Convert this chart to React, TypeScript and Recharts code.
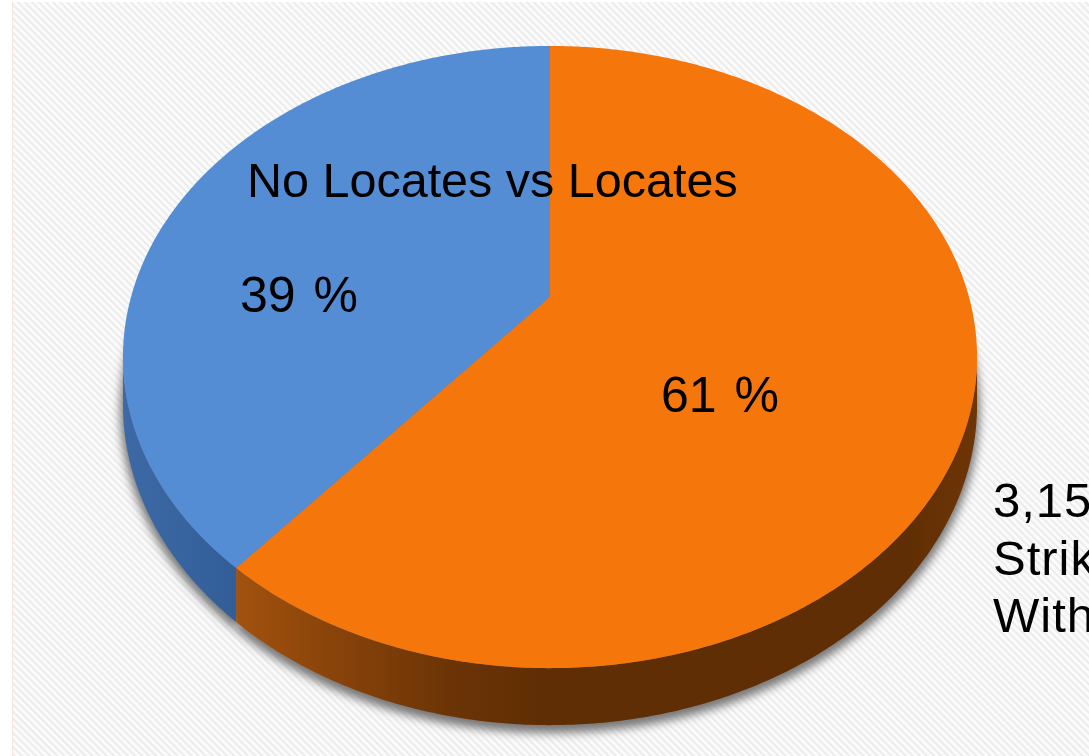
import React from 'react';
import { PieChart, Pie, Cell } from 'recharts';

// ---- data ----
const CATEGORIES = ['No Locates', 'Locates'];
const VALUES = [39, 61];
const PCT_LABELS = ['39 %', '61 %'];
const TITLE = 'No Locates vs Locates';
const SIDE_NOTE = ['3,150', 'Strikes', 'With Locates'];

// ---- styling / layout ----
const COLORS = ['#548DD4', '#F5770B'];
const WALL_FILLS = ['url(#wallBlue)', 'url(#wallOrange)'];
const W = 1089;
const H = 756;
const CX = 550;
const CY = 297;
const RADIUS = 299.5;
const RX_FACTOR = 1.399;
const PERSP = 0.193;
const DEPTH = 46;
const FONT = "'Liberation Sans', Arial, Helvetica, sans-serif";
const LABEL_POS = [
  [240, 312],
  [661, 412],
];

const data = CATEGORIES.map((name, i) => ({ name, value: VALUES[i] }));

function proj(cx: number, cy: number, R: number, deg: number, drop = 0, scale = 1): [number, number] {
  const a = (deg * Math.PI) / 180;
  const X = Math.cos(a) * scale;
  const Y = -Math.sin(a) * scale;
  const w = 1 - PERSP * Y;
  return [cx + (R * RX_FACTOR * X) / w, cy + (R * Y) / w + drop / w];
}

function arcPts(cx: number, cy: number, R: number, a1: number, a2: number, drop = 0, scale = 1) {
  const n = Math.max(2, Math.ceil(Math.abs(a2 - a1) / 0.5));
  const pts: [number, number][] = [];
  for (let i = 0; i <= n; i++) {
    const a = a1 + ((a2 - a1) * i) / n;
    pts.push(proj(cx, cy, R, a, drop, scale));
  }
  return pts;
}

const toPath = (pts: [number, number][]) =>
  pts.map((p, i) => `${i === 0 ? 'M' : 'L'}${p[0].toFixed(2)},${p[1].toFixed(2)}`).join(' ');

const SIL = (Math.asin(PERSP) * 180) / Math.PI;

function wallRanges(s: number, e: number) {
  const lo = Math.min(s, e);
  const hi = Math.max(s, e);
  const out: [number, number][] = [];
  for (const k of [-360, 0, 360]) {
    const a = Math.max(lo, 180 + SIL + k);
    const b = Math.min(hi, 360 - SIL + k);
    if (b > a) out.push([a, b]);
  }
  return out;
}

const renderShadow = (props: any) => {
  const { cx, cy, outerRadius, startAngle, endAngle, index } = props;
  const drop = DEPTH + 4;
  const pts = arcPts(cx, cy, outerRadius, startAngle, endAngle, drop, 1.006);
  const d = `M${cx},${cy + drop} ` + toPath(pts).replace(/^M/, 'L') + ' Z';
  return <path key={`sh-${index}`} d={d} fill="#777777" filter="url(#pieShadow)" />;
};

const renderSlice = (props: any) => {
  const { cx, cy, outerRadius, startAngle, endAngle, index } = props;
  const walls = wallRanges(startAngle, endAngle).map(([a, b], j) => {
    const top = arcPts(cx, cy, outerRadius, a, b, 0);
    const bottom = arcPts(cx, cy, outerRadius, b, a, DEPTH);
    const d = toPath([...top, ...bottom]) + ' Z';
    return <path key={`w-${j}`} d={d} fill={WALL_FILLS[index]} />;
  });
  const rim = arcPts(cx, cy, outerRadius, startAngle, endAngle, 0);
  const topD = `M${cx},${cy} ` + toPath(rim).replace(/^M/, 'L') + ' Z';
  const [lx, ly] = LABEL_POS[index];
  return (
    <g key={`slice-${index}`}>
      {walls}
      <path d={topD} fill={COLORS[index]} />
      <text x={lx} y={ly} fontFamily={FONT} fontSize={50} fill="#000" textAnchor="start" wordSpacing={4}>
        {PCT_LABELS[index]}
      </text>
    </g>
  );
};

export default function App() {
  return (
    <div style={{ position: 'absolute', left: 0, top: 0, width: W, height: H, overflow: 'hidden', background: '#fff' }}>
      <svg width={W} height={H} style={{ position: 'absolute', left: 0, top: 0 }}>
        <defs>
          <pattern id="bgStripes" width="5" height="5" patternUnits="userSpaceOnUse" patternTransform="rotate(-45)">
            <rect width="5" height="5" fill="#fbfbfb" />
            <rect width="2" height="5" fill="#ececec" />
          </pattern>
          <linearGradient id="wallOrange" gradientUnits="userSpaceOnUse" x1="230" y1="0" x2="975" y2="0">
            <stop offset="0" stopColor="#a4530f" />
            <stop offset="0.12" stopColor="#8c450a" />
            <stop offset="0.3" stopColor="#6b3406" />
            <stop offset="0.42" stopColor="#5f2e04" />
            <stop offset="0.9" stopColor="#5f2e04" />
            <stop offset="1" stopColor="#6e3506" />
          </linearGradient>
          <linearGradient id="wallBlue" gradientUnits="userSpaceOnUse" x1="120" y1="0" x2="250" y2="0">
            <stop offset="0" stopColor="#3d6aa6" />
            <stop offset="1" stopColor="#315c96" />
          </linearGradient>
          <filter id="pieShadow" x="-20%" y="-20%" width="140%" height="140%">
            <feGaussianBlur stdDeviation="5" />
          </filter>
        </defs>
        <rect x={0} y={0} width={W} height={H} fill="#ffffff" />
        <rect x={13} y={2} width={W - 13} height={H - 2} fill="url(#bgStripes)" />
        <line x1={12.5} y1={2} x2={12.5} y2={H} stroke="#f6e4d6" strokeWidth={1} />
      </svg>
      <div style={{ position: 'absolute', left: 0, top: 0 }}>
        <PieChart width={W} height={H} margin={{ top: 0, right: 0, bottom: 0, left: 0 }}>
          <Pie
            data={data}
            dataKey="value"
            nameKey="name"
            cx={CX}
            cy={CY}
            outerRadius={RADIUS}
            startAngle={90}
            endAngle={450}
            isAnimationActive={false}
            fillOpacity={0}
            stroke="none"
            labelLine={false}
            label={renderShadow}
          >
            {data.map((d, i) => (
              <Cell key={`sc-${d.name}`} fill={COLORS[i]} />
            ))}
          </Pie>
          <Pie
            data={data}
            dataKey="value"
            nameKey="name"
            cx={CX}
            cy={CY}
            outerRadius={RADIUS}
            startAngle={90}
            endAngle={450}
            isAnimationActive={false}
            fillOpacity={0}
            stroke="none"
            labelLine={false}
            label={renderSlice}
          >
            {data.map((d, i) => (
              <Cell key={`c-${d.name}`} fill={COLORS[i]} />
            ))}
          </Pie>
        </PieChart>
      </div>
      <svg width={W} height={H} style={{ position: 'absolute', left: 0, top: 0, pointerEvents: 'none' }}>
        <text x={247} y={197} fontFamily={FONT} fontSize={48.5} fill="#000">
          {TITLE}
        </text>
        {SIDE_NOTE.map((t, i) => (
          <text key={t} x={993} y={517 + i * 57.5} fontFamily={FONT} fontSize={49} fill="#000" letterSpacing={1}>
            {t}
          </text>
        ))}
      </svg>
    </div>
  );
}
